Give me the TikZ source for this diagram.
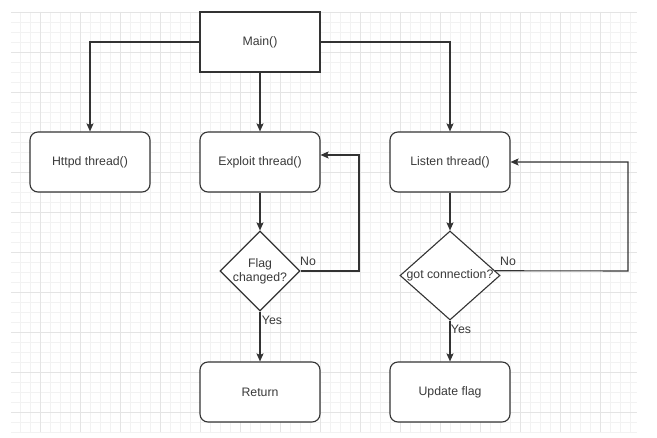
\documentclass[tikz,border=0pt]{standalone}
\usepackage{fontspec}
\setmainfont{Liberation Sans}
\usetikzlibrary{shapes.geometric,arrows.meta,calc}

\definecolor{linec}{HTML}{333333}
\definecolor{textc}{HTML}{3A3A3A}
\definecolor{gridmajor}{HTML}{E4E4E4}
\definecolor{gridminor}{HTML}{F2F2F2}

\tikzset{
  base/.style={draw=linec, line width=1.1pt, fill=white, inner sep=0pt,
    text=textc, font=\fontsize{12.3}{14}\selectfont},
  procbox/.style={base, minimum width=120pt, minimum height=60pt},
  roundbox/.style={procbox, rounded corners=8pt},
  decision/.style={base, diamond, minimum width=#1},
  caption/.style={text=textc, font=\fontsize{12.3}{14}\selectfont, inner sep=0pt, align=center},
  conn/.style={draw=linec, line width=1.1pt,
    -{Stealth[length=8pt,width=7pt,inset=1.5pt]}},
}

\begin{document}
\begin{tikzpicture}[x=1pt,y=-1pt]
  \useasboundingbox (0,0) rectangle (657,438);
  \fill[white] (0,0) rectangle (657,438);

  % background grid: fine lines every 10, heavier every 40
  \foreach \gx in {20,30,...,630}
    \draw[gridminor, line width=0.6pt] (\gx,12) -- (\gx,432);
  \foreach \gy in {22,32,...,432}
    \draw[gridminor, line width=0.6pt] (11,\gy) -- (637,\gy);
  \foreach \gx in {40,80,...,600}
    \draw[gridmajor, line width=0.9pt] (\gx,12) -- (\gx,432);
  \foreach \gy in {12,52,...,412}
    \draw[gridmajor, line width=0.9pt] (11,\gy) -- (637,\gy);

  % nodes
  \node[procbox]  (main)    at (260,42)  {Main()};
  \node[roundbox] (httpd)   at (90,162)  {Httpd thread()};
  \node[roundbox] (exploit) at (260,162) {Exploit thread()};
  \node[roundbox] (listen)  at (450,162) {Listen thread()};
  \node[roundbox] (ret)     at (260,392) {Return};
  \node[roundbox] (update)  at (450,392) {Update flag};

  \node[decision=80pt, minimum height=80pt] (d1) at (260,271) {};
  \node[caption] at (d1) {Flag\\changed?};
  \node[decision=100pt, minimum height=89pt] (d2) at (450,275.5) {};
  \node[caption] at (d2) {got connection?};

  % loop-back corners
  \coordinate (xloop) at (359,271);
  \coordinate (yloop) at (628,271);

  % connectors
  \draw[conn] (main.west) -| (httpd.north);
  \draw[conn] (main.south) -- (exploit.north);
  \draw[conn] (main.east) -| (listen.north);
  \draw[conn] (exploit.south) -- (d1.north);
  \draw[conn] (listen.south) -- (d2.north);
  \draw[conn] (d1.south) -- (ret.north);
  \draw[conn] (d2.south) -- (update.north);
  \draw[conn] (d1.east) -- (xloop) |- ([yshift=7pt]exploit.east);
  \draw[conn] (d2.6) -- (yloop) |- (listen.east);

  % branch labels
  \node[caption] (no1)  at (308,261) {No};
  \node[caption] (yes1) at (272,320) {Yes};
  \node[caption] (no2)  at (508,261) {No};
  \node[caption] (yes2) at (461,329) {Yes};
\end{tikzpicture}
\end{document}
